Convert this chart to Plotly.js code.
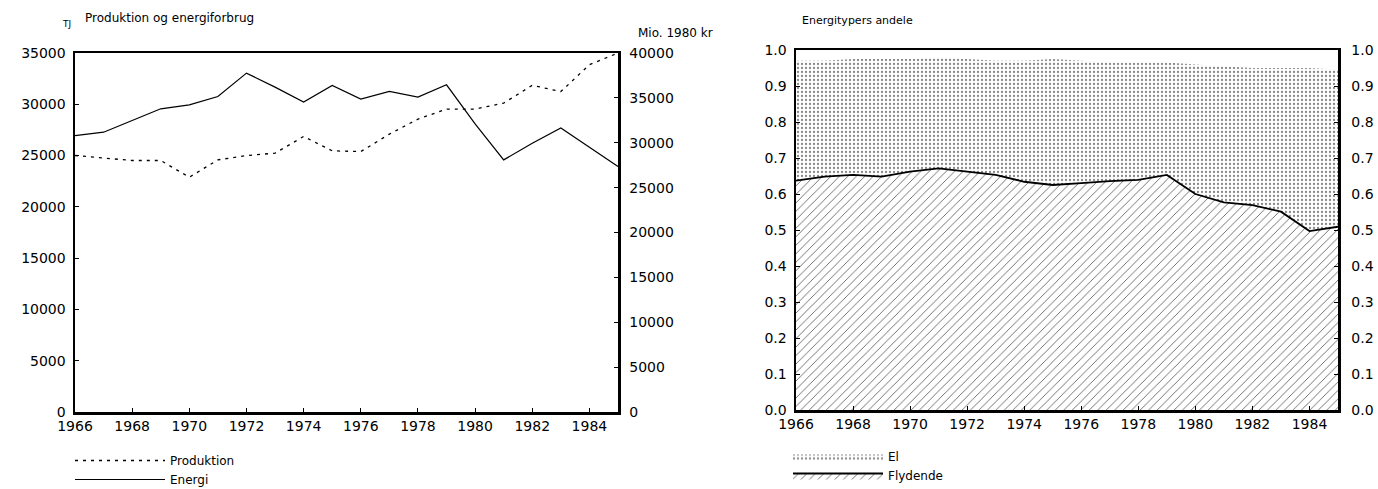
<!DOCTYPE html>
<html>
<head>
<meta charset="utf-8">
<script src="https://cdn.plot.ly/plotly-3.0.1.min.js"></script>
<style>html,body{margin:0;padding:0;background:#fff;}#chart{width:1378px;height:489px;}</style>
</head>
<body>
<div id="chart"></div>
<script>
// ---- data ----
var years = [1966,1967,1968,1969,1970,1971,1972,1973,1974,1975,1976,1977,1978,1979,1980,1981,1982,1983,1984,1985];
// Energi (TJ, left axis)
var energi = [26950,27280,28420,29560,29950,30760,33040,31670,30210,31840,30500,31250,30700,31900,28090,24580,26200,27700,25800,23930];
// Produktion (Mio. 1980 kr, right axis)
var produktion = [28580,28280,28020,28020,26160,28090,28580,28840,30700,29100,29020,30960,32630,33750,33750,34420,36400,35700,38700,40000];
// Energitypers andele
var flydende = [0.637,0.648,0.653,0.648,0.662,0.671,0.662,0.653,0.634,0.625,0.630,0.636,0.639,0.653,0.600,0.577,0.569,0.551,0.497,0.509];
var el = [0.333,0.322,0.322,0.327,0.313,0.309,0.313,0.317,0.336,0.350,0.340,0.329,0.326,0.312,0.360,0.378,0.381,0.399,0.453,0.436];

var yearTicks = [1966,1968,1970,1972,1974,1976,1978,1980,1982,1984];
var tjTicks = [0,5000,10000,15000,20000,25000,30000,35000];
var krTicks = [0,5000,10000,15000,20000,25000,30000,35000,40000];
var shareTicks = [0,0.1,0.2,0.3,0.4,0.5,0.6,0.7,0.8,0.9,1.0];
var shareLabels = ['0.0','0.1','0.2','0.3','0.4','0.5','0.6','0.7','0.8','0.9','1.0'];

var W = 1378, H = 489;
function px(x){return x/W;}
function py(y){return 1-y/H;}

var FONT = 'DejaVu Sans, sans-serif';
var tickFont = {family: FONT, size: 14, color: '#000'};

var traces = [
  {x: years, y: produktion, name: 'Produktion', type: 'scatter', mode: 'lines',
   xaxis: 'x', yaxis: 'y2', legend: 'legend',
   line: {color: '#000', width: 1.3, dash: '3px,5px'}, hoverinfo: 'skip'},
  {x: years, y: energi, name: 'Energi', type: 'scatter', mode: 'lines',
   xaxis: 'x', yaxis: 'y', legend: 'legend',
   line: {color: '#000', width: 1.2}, hoverinfo: 'skip'},
  {x: years, y: flydende, name: 'Flydende', type: 'scatter', mode: 'lines',
   xaxis: 'x2', yaxis: 'y3', legend: 'legend2', stackgroup: 'one',
   line: {color: '#000', width: 1.8},
   fillcolor: 'rgba(0,0,0,0)',
   fillpattern: {shape: '/', size: 6, solidity: 0.15, fgcolor: '#666', bgcolor: '#fff'},
   hoverinfo: 'skip'},
  {x: years, y: el, name: 'El', type: 'scatter', mode: 'lines',
   xaxis: 'x2', yaxis: 'y3', legend: 'legend2', stackgroup: 'one',
   line: {color: 'rgba(0,0,0,0)', width: 0},
   fillpattern: {shape: '.', size: 4, solidity: 0.25, fgcolor: '#888', bgcolor: '#fff'},
   hoverinfo: 'skip'},
  {x: years, y: flydende, type: 'scatter', mode: 'lines', xaxis: 'x2', yaxis: 'y4',
   line: {width: 0, color: 'rgba(0,0,0,0)'}, showlegend: false, hoverinfo: 'skip'}
];

var axBase = {showline: true, linecolor: '#000', linewidth: 2.5, ticks: 'inside', ticklen: 4,
  tickcolor: '#000', tickwidth: 1, showgrid: false, zeroline: false, tickfont: tickFont, fixedrange: true,
  automargin: false};

var layout = {
  width: W, height: H,
  margin: {l: 0, r: 0, t: 0, b: 0, autoexpand: false},
  paper_bgcolor: '#fff', plot_bgcolor: '#fff',
  font: {family: FONT, color: '#000'},
  showlegend: true,
  xaxis: Object.assign({}, axBase, {domain: [px(75), px(618)], range: [1966, 1985], anchor: 'y',
    tickvals: yearTicks, mirror: true}),
  yaxis: Object.assign({}, axBase, {domain: [py(412), py(53)], range: [0, 35000], anchor: 'x',
    tickvals: tjTicks, tickformat: 'd', ticklabelstandoff: 4}),
  yaxis2: Object.assign({}, axBase, {domain: [py(412), py(53)], range: [0, 40000], overlaying: 'y', side: 'right', anchor: 'x',
    tickvals: krTicks, tickformat: 'd', ticklabelstandoff: 6}),
  xaxis2: Object.assign({}, axBase, {domain: [px(796), px(1338)], range: [1966, 1985], anchor: 'y3',
    tickvals: yearTicks, mirror: true}),
  yaxis3: Object.assign({}, axBase, {domain: [py(410), py(50)], range: [0, 1], anchor: 'x2',
    tickvals: shareTicks, ticktext: shareLabels, ticklabelstandoff: 4}),
  yaxis4: Object.assign({}, axBase, {domain: [py(410), py(50)], range: [0, 1], overlaying: 'y3', side: 'right', anchor: 'x2',
    tickvals: shareTicks, ticktext: shareLabels, ticklabelstandoff: 8}),
  legend: {x: px(70), y: py(446), xanchor: 'left', yanchor: 'top', bgcolor: 'rgba(0,0,0,0)',
    font: {family: FONT, size: 12, color: '#000'}, itemwidth: 90, tracegroupgap: 0, traceorder: 'normal'},
  legend2: {x: px(788), y: py(442), xanchor: 'left', yanchor: 'top', bgcolor: 'rgba(0,0,0,0)',
    font: {family: FONT, size: 12, color: '#000'}, itemwidth: 90, traceorder: 'reversed'},
  annotations: [
    {text: 'Produktion og energiforbrug', xref: 'paper', yref: 'paper', x: px(83), y: py(18), xanchor: 'left', yanchor: 'middle',
     showarrow: false, font: {family: FONT, size: 12, color: '#000'}},
    {text: 'TJ', xref: 'paper', yref: 'paper', x: px(60), y: py(24), xanchor: 'left', yanchor: 'middle',
     showarrow: false, font: {family: FONT, size: 9, color: '#000'}},
    {text: 'Mio. 1980 kr', xref: 'paper', yref: 'paper', x: px(636), y: py(33), xanchor: 'left', yanchor: 'middle',
     showarrow: false, font: {family: FONT, size: 12, color: '#000'}},
    {text: 'Energitypers andele', xref: 'paper', yref: 'paper', x: px(800), y: py(20), xanchor: 'left', yanchor: 'middle',
     showarrow: false, font: {family: FONT, size: 11, color: '#000'}}
  ]
};

Plotly.newPlot('chart', traces, layout, {staticPlot: true, displayModeBar: false});
</script>
</body>
</html>
